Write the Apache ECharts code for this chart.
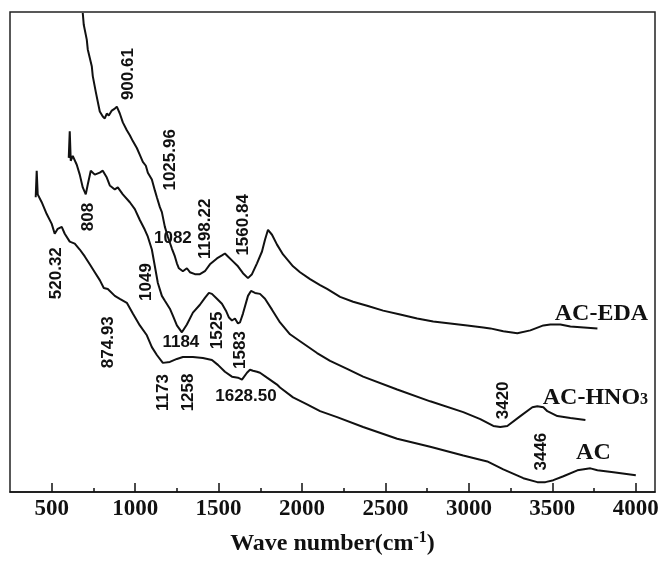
<!DOCTYPE html>
<html>
<head>
<meta charset="utf-8">
<script src="https://cdn.jsdelivr.net/npm/echarts@6/dist/echarts.min.js"></script>
<style>
html,body{margin:0;padding:0;background:#fff;}
#chart{width:670px;height:561px;}
</style>
</head>
<body>
<div id="chart"></div>
<script>
// ---- Data (wavenumber cm^-1, relative transmittance in arbitrary units) ----
const seriesNames = ['AC-EDA', 'AC-HNO3', 'AC'];

const wnEDA = [686,692,710,716,740,746,764,776,788,806,818,830,842,860,878,890,908,926,950,968,986,1010,1028,1046,1064,1076,1100,1118,1130,1148,1160,1178,1196,1220,1238,1250,1262,1286,1310,1328,1358,1388,1418,1448,1490,1520,1538,1556,1586,1616,1646,1676,1700,1730,1760,1778,1796,1820,1850,1886,1946,1988,2048,2108,2150,2228,2306,2390,2486,2588,2690,2786,2888,2990,3086,3128,3206,3290,3368,3446,3488,3548,3608,3770];
const tEDA  = [48.6,47.4,45.9,44.9,43.2,42.2,40.6,39.6,38.6,38.1,37.9,38.4,38.2,38.7,38.9,39.1,38.4,37.5,36.7,36.2,35.6,34.9,34.2,33.5,33.1,32.4,31.7,30.6,29.9,28.9,28.4,26.9,25.9,24.7,23.9,23.2,22.7,22.4,22.7,22.3,22.1,22.1,22.4,23.1,23.7,24.0,24.2,23.9,23.4,22.9,22.2,21.7,22.1,23.2,24.4,25.6,26.6,26.1,25.1,24.1,22.9,22.3,21.6,21.0,20.6,19.8,19.3,18.9,18.4,18.0,17.6,17.3,17.1,16.9,16.7,16.6,16.3,16.1,16.4,16.9,17.0,17.0,16.8,16.6];

const wnHNO3 = [602,608,614,626,650,668,686,704,716,734,758,788,806,830,848,878,896,926,968,998,1028,1058,1076,1100,1118,1136,1160,1178,1208,1226,1250,1280,1310,1346,1388,1418,1442,1460,1490,1520,1544,1562,1580,1598,1616,1628,1646,1676,1694,1718,1748,1778,1820,1868,1928,1988,2090,2168,2270,2366,2570,2768,2966,3068,3146,3188,3230,3308,3380,3410,3446,3470,3530,3608,3698];
const tHNO3  = [33.9,36.6,33.6,34.1,33.2,32.2,30.9,30.2,31.2,32.6,32.2,32.4,32.6,31.9,31.1,30.7,30.9,30.2,29.4,28.7,27.6,26.6,25.9,24.6,22.9,21.2,19.9,19.4,18.6,17.9,16.9,16.2,17.0,18.2,19.0,19.7,20.2,20.1,19.6,19.1,18.4,17.7,17.4,17.6,17.1,17.2,18.1,19.9,20.4,20.2,20.1,19.6,18.5,17.2,16.0,15.3,14.1,13.3,12.5,11.7,10.4,9.2,8.1,7.4,6.7,6.6,6.7,7.7,8.6,8.7,8.6,8.2,7.7,7.5,7.3];

const wnAC = [404,410,416,440,470,500,518,536,560,578,608,638,668,698,728,758,788,812,836,878,908,950,986,1028,1070,1100,1130,1166,1208,1250,1286,1346,1406,1460,1496,1538,1580,1616,1640,1670,1688,1706,1730,1748,1790,1850,1868,1946,2030,2108,2210,2366,2570,2768,2966,3110,3206,3326,3410,3458,3506,3566,3650,3728,3770,3866,4000];
const tAC  = [29.9,32.6,30.2,29.4,28.2,27.2,26.2,26.7,26.9,26.2,25.4,25.2,24.6,23.9,23.1,22.3,21.5,20.7,20.6,19.9,19.6,19.2,18.1,16.9,15.9,14.7,13.9,13.1,13.2,13.5,13.7,13.7,13.6,13.4,12.9,12.2,11.7,11.6,11.4,12.1,12.4,12.3,12.2,12.1,11.6,10.9,10.6,9.6,8.9,8.2,7.6,6.6,5.4,4.6,3.7,3.1,2.3,1.4,1.0,1.0,1.2,1.6,2.2,2.4,2.2,2.0,1.7];

const majorTicks = [500,1000,1500,2000,2500,3000,3500,4000];
const minorTicks = [750,1250,1750,2250,2750,3250,3750];

// peak annotations: text, wavenumber, value, vertical (1) or horizontal (0)
const peakText = ['900.61','1025.96','808','1082','1198.22','1560.84','520.32','1049','874.93','1184','1525','1583','1173','1258','1628.50','3420','3446'];
const peakWn   = [956,1208,722,1226,1418,1646,530,1064,842,1274,1490,1628,1166,1316,1664,3206,3434];
const peakV    = [42.4,33.7,27.9,25.7,26.7,27.1,22.2,21.3,15.2,15.2,16.4,14.4,10.1,10.1,9.7,9.3,4.1];
const peakVert = [1,1,1,0,1,1,1,1,1,0,1,1,1,1,0,1,1];

// curve name labels
const nameWn = [3794,3758,3746];
const nameV  = [18.2,9.7,4.1];

const chart = echarts.init(document.getElementById('chart'), null, {renderer:'canvas'});
const pairs = (xs, ys) => xs.map((x,i)=>[x, ys[i]]);
const serif = '"Liberation Serif","Times New Roman",serif';
const sans = '"Liberation Sans",Arial,sans-serif';

const lineSeries = (name, data) => ({
  name, type:'line', data, showSymbol:false, symbol:'none', smooth:false, silent:true,
  lineStyle:{color:'#111', width:2}, xAxisIndex:0, yAxisIndex:0
});

chart.setOption({
  animation:false,
  backgroundColor:'#fff',
  grid:{left:10, right:15, top:12, bottom:62, show:true, borderColor:'#222', borderWidth:1.5, backgroundColor:'transparent'},
  xAxis:[{
    type:'value', min:250, max:4115, position:'bottom',
    axisLine:{show:true, lineStyle:{color:'#111', width:1.5}},
    axisTick:{show:true, inside:true, length:9, customValues:majorTicks, lineStyle:{color:'#111', width:1.5}},
    axisLabel:{show:true, customValues:majorTicks, margin:6, color:'#111', fontFamily:serif, fontWeight:'bold', fontSize:23,
      formatter:(v)=>String(v)},
    splitLine:{show:false},
    name:'{a|Wave number(cm}{s|-1}{a|)}', nameLocation:'middle', nameGap:38,
    nameTextStyle:{rich:{
      a:{fontFamily:serif, fontWeight:'bold', fontSize:24, color:'#111', verticalAlign:'bottom', lineHeight:26},
      s:{fontFamily:serif, fontWeight:'bold', fontSize:16, color:'#111', verticalAlign:'top', lineHeight:26, padding:[0,0,10,0]}
    }}
  },{
    type:'value', min:250, max:4115, position:'bottom',
    axisLine:{show:false},
    axisTick:{show:true, inside:true, length:4, customValues:minorTicks, lineStyle:{color:'#111', width:1.5}},
    axisLabel:{show:false},
    splitLine:{show:false}
  }],
  yAxis:{type:'value', min:0, max:48.7, axisLine:{show:false}, axisTick:{show:false}, axisLabel:{show:false}, splitLine:{show:false}},
  series:[
    lineSeries(seriesNames[0], pairs(wnEDA, tEDA)),
    lineSeries(seriesNames[1], pairs(wnHNO3, tHNO3)),
    lineSeries(seriesNames[2], pairs(wnAC, tAC))
  ]
});

// annotations anchored to data coordinates
const graphics = [];
peakText.forEach((t,i)=>{
  const p = chart.convertToPixel({gridIndex:0}, [peakWn[i], peakV[i]]);
  graphics.push({
    type:'text', x:p[0], y:p[1], rotation: peakVert[i] ? Math.PI/2 : 0, silent:true,
    style:{text:t, x:0, y:0, align:'center', verticalAlign:'middle', fill:'#111', font:'bold 17px ' + sans}
  });
});
const nameRich = ['{a|AC-EDA}', '{a|AC-HNO}{b|3}', '{a|AC}'];
nameRich.forEach((t,i)=>{
  const p = chart.convertToPixel({gridIndex:0}, [nameWn[i], nameV[i]]);
  graphics.push({
    type:'text', x:p[0], y:p[1], silent:true,
    style:{text:t, x:0, y:0, align:'center', verticalAlign:'middle', fill:'#111',
      rich:{
        a:{fontFamily:serif, fontWeight:'bold', fontSize:24, fill:'#111', lineHeight:26, verticalAlign:'bottom'},
        b:{fontFamily:serif, fontWeight:'bold', fontSize:16, fill:'#111', lineHeight:26, verticalAlign:'bottom', padding:[0,0,2,0]}
      }}
  });
});
chart.setOption({graphic:graphics});
</script>
</body>
</html>
